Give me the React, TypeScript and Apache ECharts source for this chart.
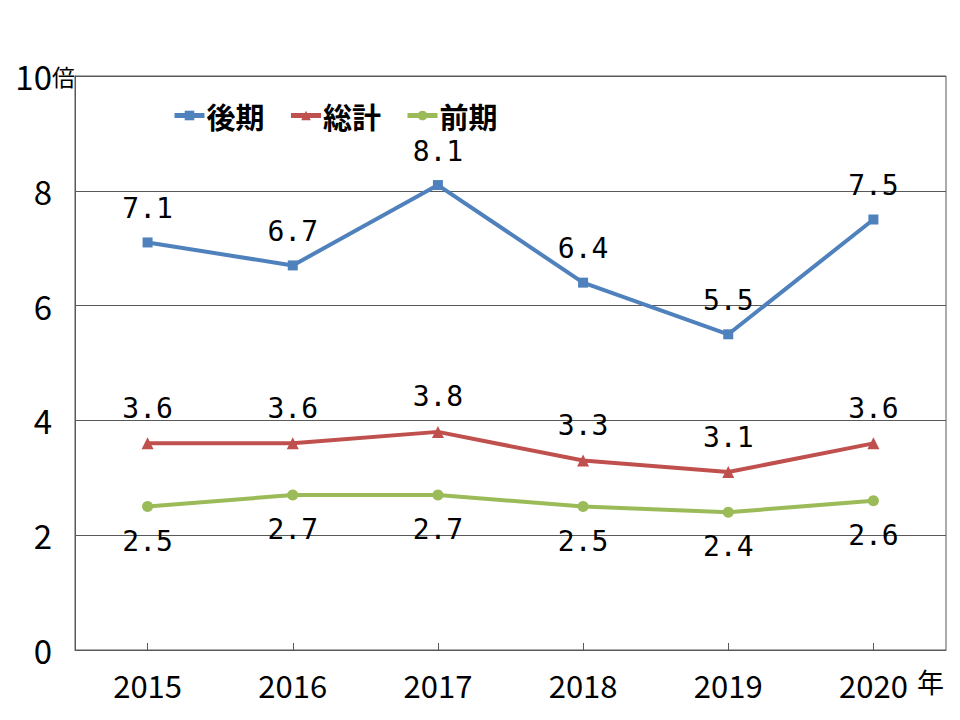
import React, { useEffect, useRef } from "react";
import * as echarts from "echarts";

const years = ["2015", "2016", "2017", "2018", "2019", "2020"];
const kouki = [7.1, 6.7, 8.1, 6.4, 5.5, 7.5];
const soukei = [3.6, 3.6, 3.8, 3.3, 3.1, 3.6];
const zenki = [2.5, 2.7, 2.7, 2.5, 2.4, 2.6];
const seriesNames = ["後期", "総計", "前期"];
const colors = ["#4F81BD", "#C0504D", "#9BBB59"];

const labelFont = "'DejaVu Sans Mono', monospace";
const axisFont = "'Noto Sans CJK JP', sans-serif";
const cjkFont = "'Noto Sans CJK JP', sans-serif";

export default function App() {
  const ref = useRef<HTMLDivElement>(null);
  useEffect(() => {
    if (!ref.current) return;
    const chart = echarts.init(ref.current, undefined, { renderer: "svg" });
    const mkLabel = (pos: string) => ({
      show: true,
      position: pos,
      distance: 15,
      color: "#000",
      fontSize: 28,
      fontFamily: labelFont,
      formatter: (p: any) => p.value.toFixed(1),
    });
    chart.setOption({
      animation: false,
      backgroundColor: "#fff",
      color: colors,
      grid: { left: 75, right: 14, top: 76, bottom: 70, containLabel: false },
      legend: {
        left: 167,
        top: 96,
        itemWidth: 30,
        itemHeight: 12,
        itemGap: 24,
        lineStyle: { width: 5 },
        textStyle: { fontSize: 29, fontWeight: "bold", fontFamily: cjkFont, color: "#000", padding: [0, 0, 0, -3] },
        data: seriesNames,
      },
      xAxis: {
        type: "category",
        data: years,
        boundaryGap: true,
        axisLine: { lineStyle: { color: "#595959", width: 1 } },
        axisTick: { show: true, inside: true, alignWithLabel: true, length: 7, lineStyle: { color: "#595959" } },
        axisLabel: { fontSize: 31, fontFamily: axisFont, color: "#000", margin: 19 },
      },
      yAxis: {
        type: "value",
        min: 0,
        max: 10,
        interval: 2,
        axisLine: { show: true, lineStyle: { color: "#595959", width: 1 } },
        axisTick: { show: false },
        splitLine: { show: true, lineStyle: { color: "#595959", width: 1 } },
        axisLabel: { fontSize: 33, fontFamily: axisFont, color: "#000", margin: 23 },
      },
      graphic: [
        {
          type: "rect",
          shape: { x: 75, y: 76, width: 871, height: 574 },
          style: { fill: "none", stroke: "#595959", lineWidth: 1 },
          silent: true,
        },
        {
          type: "text",
          x: 52,
          y: 64,
          style: { text: "倍", fontSize: 23, fontFamily: cjkFont, fill: "#000" },
        },
        {
          type: "text",
          x: 917,
          y: 668,
          style: { text: "年", fontSize: 27, fontFamily: cjkFont, fill: "#000" },
        },
      ],
      series: [
        {
          name: seriesNames[0],
          type: "line",
          data: kouki,
          symbol: "rect",
          symbolSize: 10,
          lineStyle: { width: 4 },
          label: mkLabel("top"),
        },
        {
          name: seriesNames[1],
          type: "line",
          data: soukei,
          symbol: "triangle",
          symbolSize: 12,
          lineStyle: { width: 4 },
          label: mkLabel("top"),
        },
        {
          name: seriesNames[2],
          type: "line",
          data: zenki,
          symbol: "circle",
          symbolSize: 11,
          lineStyle: { width: 4 },
          label: mkLabel("bottom"),
        },
      ],
    });
    return () => chart.dispose();
  }, []);
  return <div ref={ref} style={{ width: 960, height: 720, position: "absolute", left: 0, top: 0 }} />;
}
